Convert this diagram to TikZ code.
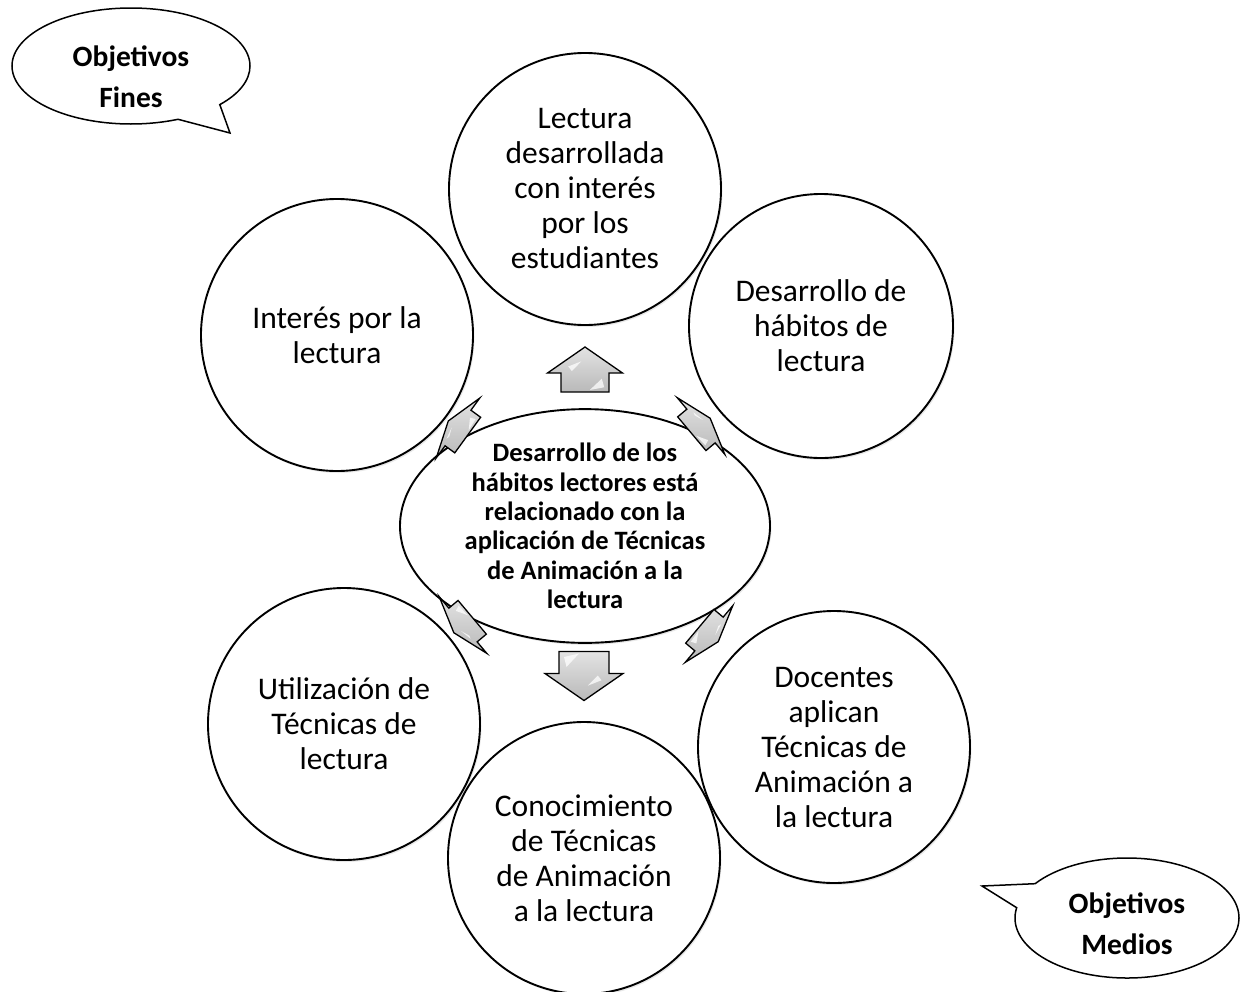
\documentclass[tikz,border=0pt]{standalone}
\usepackage{fontspec}
\setmainfont{Carlito}
\usetikzlibrary{shapes.geometric,shapes.callouts,shadows}
\newcommand\blkarrow[7]{%
  % #1 x, #2 y, #3 angle, #4 shaft length, #5 head length, #6 shaft half width, #7 head half width
  \begin{scope}[shift={(#1,#2)},rotate=#3]
    \path[blk] ({-(#4+#5)/2},{-#6}) -- ({-(#4+#5)/2+#4},{-#6}) -- ({-(#4+#5)/2+#4},{-#7})
      -- ({(#4+#5)/2},0) -- ({-(#4+#5)/2+#4},{#7}) -- ({-(#4+#5)/2+#4},{#6})
      -- ({-(#4+#5)/2},{#6}) -- cycle;
    \fill[white,opacity=0.75] ({-(#4+#5)/2+#4+2},{-0.55*#6}) -- ({-(#4+#5)/2+#4+0.45*#5},{-0.15*#6})
      -- ({-(#4+#5)/2+#4+0.25*#5},{-0.7*#6}) -- cycle;
    \fill[white,opacity=0.75] ({-(#4+#5)/2+2},{0.2*#6}) -- ({-(#4+#5)/2+0.7*#4},{0.7*#6})
      -- ({-(#4+#5)/2+0.25*#4},{0.8*#6}) -- cycle;
  \end{scope}}
\begin{document}
\begin{tikzpicture}[x=1pt,y=-1pt,
  bubble/.style={circle, draw=black, line width=1.9pt, fill=white, inner sep=0pt,
    minimum size=272pt, align=center, font=\fontsize{31.5}{35}\selectfont,
    drop shadow={opacity=0.18, shadow xshift=1.5pt, shadow yshift=-2pt}},
  core/.style={ellipse, draw=black, line width=1.9pt, fill=white, inner sep=0pt,
    minimum width=370pt, minimum height=188pt, align=center,
    font=\bfseries\fontsize{26.5}{29.3}\selectfont,
    drop shadow={opacity=0.18, shadow xshift=1.5pt, shadow yshift=-2pt}},
  say/.style={ellipse callout, draw=black, line width=1.5pt, fill=white, inner sep=0pt,
    callout pointer arc=25},
  saytext/.style={align=center, inner sep=0pt, font=\bfseries\fontsize{29.5}{41}\selectfont},
  blk/.style={draw=black, line width=1.3pt, line join=miter, top color=gray!22, bottom color=gray!55}
]
\useasboundingbox (0,0) rectangle (1241,991);

\node[bubble] (top) at (585,189) {Lectura\\desarrollada\\con interés\\por los\\estudiantes};
\node[bubble] (ul) at (337,335) {Interés por la\\lectura};
\node[bubble, minimum size=264pt] (ur) at (821,326) {Desarrollo de\\hábitos de\\lectura};
\node[core] (mid) at (585,526) {Desarrollo de los\\hábitos lectores está\\relacionado con la\\aplicación de Técnicas\\de Animación a la\\lectura};
\node[bubble] (ll) at (344,724) {Utilización de\\Técnicas de\\lectura};
\node[bubble] (lr) at (834,747) {Docentes\\aplican\\Técnicas de\\Animación a\\la lectura};
\node[bubble] (bot) at (584,858) {Conocimiento\\de Técnicas\\de Animación\\a la lectura};

\node[say, minimum width=238pt, minimum height=116pt, callout absolute pointer={(230,133)}] (fines) at (131,66) {};
\node[saytext] (finesT) at (131,77) {Objetivos\\Fines};
\node[say, minimum width=224pt, minimum height=120pt, callout absolute pointer={(982,886)}] (medios) at (1127,918) {};
\node[saytext] (mediosT) at (1127,924) {Objetivos\\Medios};

\blkarrow{585}{369.5}{90}{19}{26}{24}{37.5}
\blkarrow{584}{676}{-90}{22}{27}{25}{39}
\blkarrow{701}{426}{40}{12}{12}{22}{37}
\blkarrow{458}{428}{144}{12}{12}{22}{37}
\blkarrow{463}{625}{220}{12}{12}{22}{37}
\blkarrow{709}{634}{-40}{12}{12}{22}{37}
\end{tikzpicture}
\end{document}
